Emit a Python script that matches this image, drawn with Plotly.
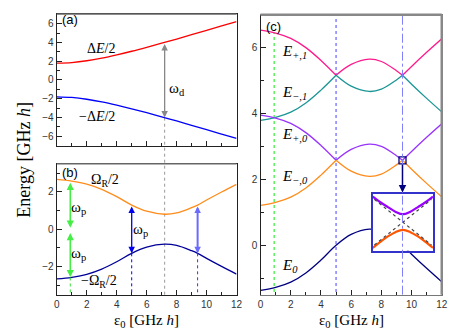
import plotly.graph_objects as go

# ---- data ----
# (a) qubit levels +/- dE/2
xa = [0, 1, 2, 3, 4, 5, 6, 7, 8, 9, 10, 11, 12]
dE_up = [1.80, 1.87, 2.06, 2.34, 2.69, 3.08, 3.50, 3.94, 4.39, 4.85, 5.31, 5.79, 6.26]
dE_dn = [-1.80, -1.87, -2.06, -2.34, -2.69, -3.08, -3.50, -3.94, -4.39, -4.85, -5.31, -5.79, -6.26]

# (b) +/- Omega_R/2
xb = [0, 1, 2, 3, 4, 5, 6, 7.2, 8, 9, 9.4, 10, 11, 12]
om_up = [2.66, 2.57, 2.41, 2.13, 1.74, 1.29, 0.96, 0.80, 0.87, 1.15, 1.29, 1.56, 1.99, 2.40]
om_dn = [-2.66, -2.57, -2.41, -2.13, -1.74, -1.29, -0.96, -0.80, -0.87, -1.15, -1.29, -1.56, -1.99, -2.40]

# (c) quasi-energies, three branches split at the crossings (None = gap)
xc_seg = [0, 1, 2, 3, 4, 5, None, 5, 6, 7.2, 8, 9, 9.4, None, 9.4, 10, 11, 12]
E_p1 = [6.53, 6.44, 6.28, 6.00, 5.61, 5.16, None, 5.16, 5.49, 5.65, 5.58, 5.30, 5.16, None, 5.16, 5.43, 5.86, 6.27]
E_m1 = [3.79, 3.88, 4.04, 4.32, 4.71, 5.16, None, 5.16, 4.83, 4.67, 4.74, 5.02, 5.16, None, 5.16, 4.89, 4.46, 4.05]
E_p0 = [3.95, 3.86, 3.70, 3.42, 3.03, 2.58, None, 2.58, 2.91, 3.07, 3.00, 2.72, 2.58, None, 2.58, 2.85, 3.28, 3.69]
E_m0 = [1.21, 1.30, 1.46, 1.74, 2.13, 2.58, None, 2.58, 2.25, 2.09, 2.16, 2.44, 2.58, None, 2.58, 2.31, 1.88, 1.47]
E_0 = [-1.37, -1.28, -1.12, -0.84, -0.45, 0.00, 0.33, 0.49, 0.42, 0.14, 0.00, -0.27, -0.70, -1.11]

# inset: zoom on the avoided crossing
xi = [-1, -0.75, -0.5, -0.25, 0, 0.25, 0.5, 0.75, 1]
in_up = [0.90, 0.70, 0.53, 0.37, 0.28, 0.37, 0.53, 0.70, 0.90]
in_dn = [-0.90, -0.69, -0.50, -0.35, -0.27, -0.35, -0.50, -0.69, -0.90]
xi_diab = [-0.95, 0.95]
diab1 = [0.80, -0.80]
diab2 = [-0.80, 0.80]

eps_d, eps_g, eps_1, eps_2 = 7.2, 0.9, 5.0, 9.4
w_d_half = 4.02
w_p_level = 2.58

SERIF = "Liberation Serif"
SANS = "Liberation Sans"

fig = go.Figure()

def line(x, y, color, ax, width=1.3, dash=None, shape="spline"):
    fig.add_trace(go.Scatter(x=x, y=y, mode="lines", xaxis="x" + ax, yaxis="y" + ax,
                             line=dict(color=color, width=width, dash=dash, shape=shape),
                             connectgaps=False, showlegend=False, hoverinfo="skip"))

# (a)
line(xa, dE_up, "#ff0000", "")
line(xa, dE_dn, "#0000ff", "")
# (b)
line(xb, om_up, "#ff8c1a", "2")
line(xb, om_dn, "#000099", "2")
line([eps_g, eps_g], [-2.58, -3.6], "#33dd33", "2", 1, "dot", "linear")
line([eps_1, eps_1], [-1.29, -3.6], "#0000ff", "2", 1, "dot", "linear")
line([eps_2, eps_2], [-1.29, -3.6], "#3333ff", "2", 1, "dot", "linear")
# (c)
line([eps_g, eps_g], [-1.6, 6.45], "#33ee33", "3", 1.2, "dot", "linear")
line([eps_1, eps_1], [-1.6, 7.1], "#8080ff", "3", 1.5, "dot", "linear")
line(xc_seg, E_p1, "#ff1a8c", "3")
line(xc_seg, E_m1, "#1a9696", "3")
line(xc_seg, E_p0, "#9933ff", "3")
line(xc_seg, E_m0, "#ff8c1a", "3")
line(xb, E_0, "#000080", "3")
fig.add_trace(go.Scatter(x=[eps_2], y=[w_p_level], mode="markers", xaxis="x3", yaxis="y3",
                         marker=dict(symbol="square-open", size=7, color="#000080", line=dict(width=1.3)),
                         showlegend=False, hoverinfo="skip"))
# inset
line(xi, in_up, "#9900ff", "4", 2.2)
line(xi, in_dn, "#ff5500", "4", 2.2)
line(xi_diab, diab1, "#444444", "4", 1.2, "dot", "linear")
line(xi_diab, diab2, "#444444", "4", 1.2, "dot", "linear")

tickfont = dict(family=SANS, size=10, color="#333333")

def axis(domain, rng, anchor, dtick, labels=True, line_color="#222222"):
    return dict(domain=domain, range=rng, anchor=anchor, dtick=dtick, tick0=0,
                ticks="inside", ticklen=5, tickcolor="#222222", showticklabels=labels,
                minor=dict(dtick=dtick / 2, ticks="inside", ticklen=3, tickcolor="#222222"),
                showline=True, linecolor=line_color, linewidth=1.3, mirror=True,
                showgrid=False, zeroline=False, tickfont=tickfont, fixedrange=True)

fig.update_layout(
    width=463, height=329, margin=dict(l=0, r=0, t=0, b=0),
    paper_bgcolor="white", plot_bgcolor="white",
    xaxis=axis([0.1009, 0.4968], [0, 12], "y", 2, labels=False),
    yaxis=axis([0.5805, 0.9818], [-7.07, 7.07], "x", 2),
    xaxis2=axis([0.1009, 0.4968], [0, 12], "y2", 2),
    yaxis2=axis([0.1286, 0.5267], [-3.5, 3.5], "x2", 2),
    xaxis3=axis([0.5497, 0.9488], [0, 12], "y3", 2, line_color="#777777"),
    yaxis3=axis([0.1286, 0.9796], [-1.5, 7], "x3", 2),
    xaxis4=dict(domain=[0.797, 0.9294], range=[-1, 1], anchor="y4", showticklabels=False,
                showline=True, linecolor="#3333cc", linewidth=1.5, mirror=True,
                showgrid=False, zeroline=False, ticks="", fixedrange=True),
    yaxis4=dict(domain=[0.2623, 0.4356], range=[-1, 1], anchor="x4", showticklabels=False,
                showline=True, linecolor="#3333cc", linewidth=1.5, mirror=True,
                showgrid=False, zeroline=False, ticks="", fixedrange=True),
)

# gray dotted line from the drive arrow of (a) down through (b)
fig.add_shape(type="line", xref="x", yref="paper", x0=eps_d, x1=eps_d, y0=0.1286, y1=0.667,
              line=dict(color="#999999", width=1, dash="dot"), layer="below")
# dash-dot line at the avoided crossing
fig.add_shape(type="line", xref="x3", yref="paper", x0=eps_2, x1=eps_2, y0=0.1286, y1=0.9796,
              line=dict(color="#8080ff", width=1, dash="dashdot"))
# gray frame parts
fig.add_shape(type="line", xref="paper", yref="paper", x0=0.1009, x1=0.4968, y0=0.9818, y1=0.9818,
              line=dict(color="#666666", width=1.6))
fig.add_shape(type="line", xref="paper", yref="paper", x0=0.1009, x1=0.4968, y0=0.5267, y1=0.5267,
              line=dict(color="#666666", width=1.6))
fig.add_shape(type="line", xref="paper", yref="paper", x0=0.9488, x1=0.9488, y0=0.1286, y1=0.9796,
              line=dict(color="#888888", width=2.5))
fig.add_shape(type="line", xref="paper", yref="paper", x0=0.5497, x1=0.9488, y0=0.9796, y1=0.9796,
              line=dict(color="#888888", width=2.5))


def arrow(x, y, ax_, ay_, xr, yr, color, width=1.3, both=True, size=1.0):
    fig.add_annotation(x=x, y=y, ax=ax_, ay=ay_, xref=xr, yref=yr, axref=xr, ayref=yr,
                       text="", showarrow=True, arrowhead=2, arrowsize=size, arrowwidth=width,
                       arrowcolor=color, arrowside="end+start" if both else "end")

arrow(eps_d, -w_d_half, eps_d, w_d_half, "x", "y", "#888888")
arrow(eps_g, 0.08, eps_g, 2.56, "x2", "y2", "#44ee44", 1.6, size=0.9)
arrow(eps_g, -2.56, eps_g, -0.12, "x2", "y2", "#44ee44", 1.6, size=0.9)
arrow(eps_1, -1.29, eps_1, 1.29, "x2", "y2", "#0000ee", 1.3)
arrow(eps_2, -1.29, eps_2, 1.29, "x2", "y2", "#6a6aff", 2.0, size=0.65)
arrow(eps_2, 1.6, eps_2, 2.5, "x3", "y3", "#000080", 1.5, both=False)


def label(x, y, text, xr, yr, size=14, family=SERIF, xanchor="center"):
    fig.add_annotation(x=x, y=y, xref=xr, yref=yr, text=text, showarrow=False,
                       font=dict(family=family, size=size, color="black"), xanchor=xanchor)

label(0.2, 6.45, "(a)", "x", "y", 13, SANS, "left")
label(0.2, 3.05, "(b)", "x2", "y2", 13, SANS, "left")
label(0.25, 6.65, "(c)", "x3", "y3", 13, SANS, "left")
label(2.95, 3.4, "Δ<i>E</i>/2", "x", "y")
label(2.7, -3.9, "−Δ<i>E</i>/2", "x", "y")
label(8.0, -1.0, "ω<sub>d</sub>", "x", "y", 15)
label(3.2, 2.62, "Ω<sub>R</sub>/2", "x2", "y2")
label(2.8, -2.8, "−Ω<sub>R</sub>/2", "x2", "y2")
label(1.45, 1.15, "ω<sub>p</sub>", "x2", "y2", 15)
label(1.45, -1.35, "ω<sub>p</sub>", "x2", "y2", 15)
label(5.6, -0.05, "ω<sub>p</sub>", "x2", "y2", 15)
label(1.3, 5.86, "<i>E</i><sub><i>+,1</i></sub>", "x3", "y3", 15, xanchor="left")
label(1.3, 4.62, "<i>E</i><sub><i>−,1</i></sub>", "x3", "y3", 15, xanchor="left")
label(1.3, 3.35, "<i>E</i><sub><i>+,0</i></sub>", "x3", "y3", 15, xanchor="left")
label(1.3, 2.06, "<i>E</i><sub><i>−,0</i></sub>", "x3", "y3", 15, xanchor="left")
label(1.3, -0.62, "<i>E</i><sub><i>0</i></sub>", "x3", "y3", 15, xanchor="left")

# axis titles
fig.add_annotation(x=13 / 463, y=1 - 152 / 329, xref="paper", yref="paper", xanchor="center", yanchor="middle",
                   text="Energy [GHz <i>h</i>]",
                   showarrow=False, textangle=-90, font=dict(family=SERIF, size=18, color="black"))
fig.add_annotation(x=138 / 463, y=1 - 303 / 329, xref="paper", yref="paper", xanchor="center", yanchor="top",
                   text="ε<sub>0</sub> [GHz <i>h</i>]", borderpad=0,
                   showarrow=False, font=dict(family=SERIF, size=15, color="black"))
fig.add_annotation(x=347 / 463, y=1 - 303 / 329, xref="paper", yref="paper", xanchor="center", yanchor="top",
                   text="ε<sub>0</sub> [GHz <i>h</i>]", borderpad=0,
                   showarrow=False, font=dict(family=SERIF, size=15, color="black"))

fig.write_html("out.html")
